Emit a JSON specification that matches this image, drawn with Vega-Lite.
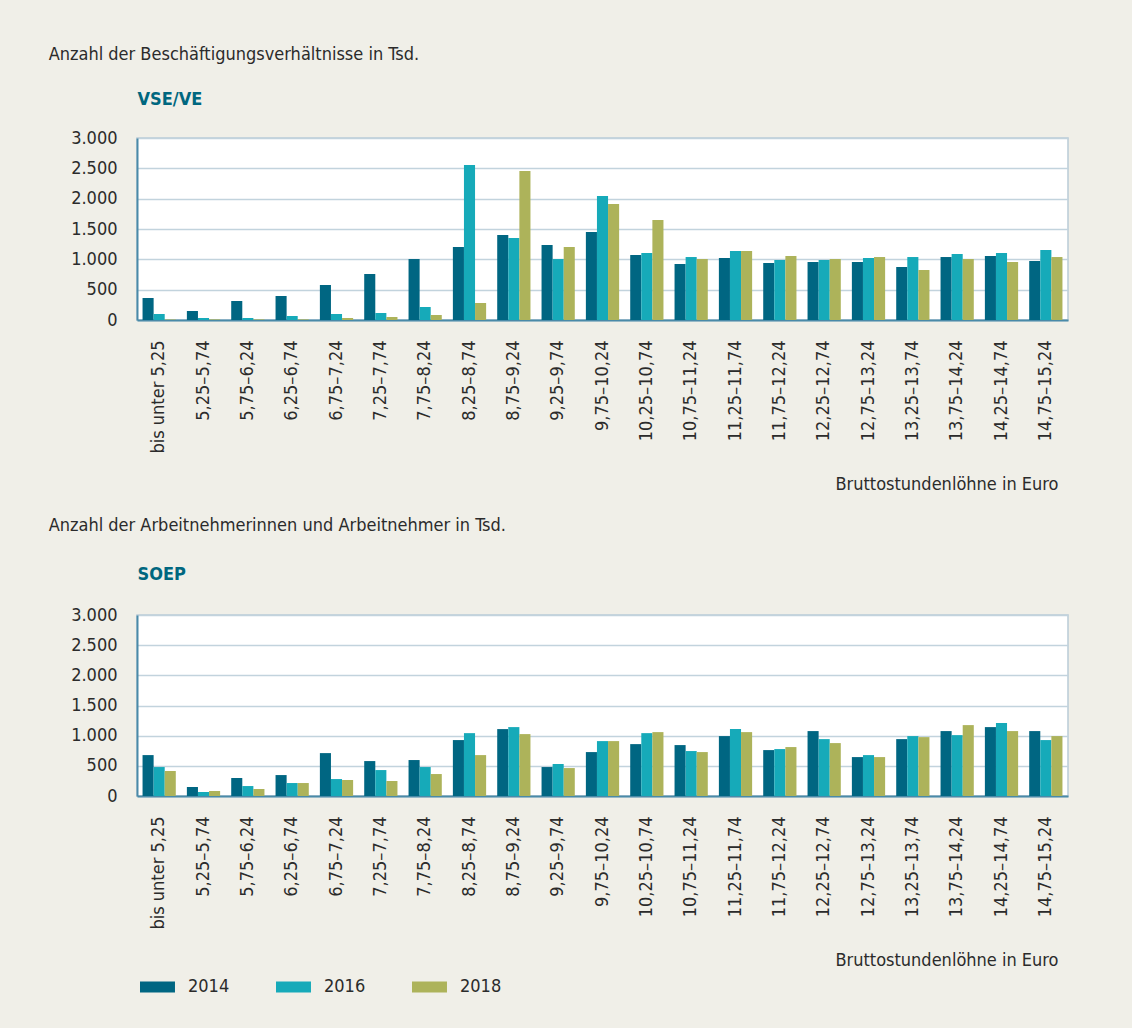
{
  "$schema": "https://vega.github.io/schema/vega-lite/v6.json",
  "background": "#f0efe8",
  "padding": {"left": 47, "top": 45, "right": 63, "bottom": 35},
  "spacing": 22,
  "config": {
    "font": "DejaVu Sans Condensed",
    "view": {"fill": "white", "stroke": "#b9cbd6", "strokeWidth": 1.5},
    "axis": {
      "domainColor": "#4a8aa8",
      "domainWidth": 2,
      "ticks": false,
      "labelFontSize": 18,
      "labelColor": "#2b2b2b",
      "labelPadding": 20,
      "titleFontSize": 18,
      "titleFontWeight": "normal",
      "titleColor": "#2b2b2b",
      "gridColor": "#c2d3dd",
      "gridWidth": 1.5
    },
    "legend": {"labelFont": "DejaVu Sans Condensed"},
    "title": {"fontSize": 18, "fontWeight": "normal", "color": "#2b2b2b", "anchor": "start", "frame": "bounds", "dx": -22}
  },
  "datasets": {
    "vse": [
      {"bin": "bis unter 5,25", "year": "2014", "value": 363}, {"bin": "bis unter 5,25", "year": "2016", "value": 99}, {"bin": "bis unter 5,25", "year": "2018", "value": 10},
      {"bin": "5,25–5,74", "year": "2014", "value": 148}, {"bin": "5,25–5,74", "year": "2016", "value": 33}, {"bin": "5,25–5,74", "year": "2018", "value": 10},
      {"bin": "5,75–6,24", "year": "2014", "value": 313}, {"bin": "5,75–6,24", "year": "2016", "value": 33}, {"bin": "5,75–6,24", "year": "2018", "value": 10},
      {"bin": "6,25–6,74", "year": "2014", "value": 396}, {"bin": "6,25–6,74", "year": "2016", "value": 66}, {"bin": "6,25–6,74", "year": "2018", "value": 10},
      {"bin": "6,75–7,24", "year": "2014", "value": 577}, {"bin": "6,75–7,24", "year": "2016", "value": 99}, {"bin": "6,75–7,24", "year": "2018", "value": 33},
      {"bin": "7,25–7,74", "year": "2014", "value": 758}, {"bin": "7,25–7,74", "year": "2016", "value": 115}, {"bin": "7,25–7,74", "year": "2018", "value": 49},
      {"bin": "7,75–8,24", "year": "2014", "value": 1005}, {"bin": "7,75–8,24", "year": "2016", "value": 214}, {"bin": "7,75–8,24", "year": "2018", "value": 82},
      {"bin": "8,25–8,74", "year": "2014", "value": 1203}, {"bin": "8,25–8,74", "year": "2016", "value": 2555}, {"bin": "8,25–8,74", "year": "2018", "value": 280},
      {"bin": "8,75–9,24", "year": "2014", "value": 1401}, {"bin": "8,75–9,24", "year": "2016", "value": 1352}, {"bin": "8,75–9,24", "year": "2018", "value": 2456},
      {"bin": "9,25–9,74", "year": "2014", "value": 1236}, {"bin": "9,25–9,74", "year": "2016", "value": 1005}, {"bin": "9,25–9,74", "year": "2018", "value": 1203},
      {"bin": "9,75–10,24", "year": "2014", "value": 1451}, {"bin": "9,75–10,24", "year": "2016", "value": 2044}, {"bin": "9,75–10,24", "year": "2018", "value": 1912},
      {"bin": "10,25–10,74", "year": "2014", "value": 1071}, {"bin": "10,25–10,74", "year": "2016", "value": 1104}, {"bin": "10,25–10,74", "year": "2018", "value": 1648},
      {"bin": "10,75–11,24", "year": "2014", "value": 923}, {"bin": "10,75–11,24", "year": "2016", "value": 1038}, {"bin": "10,75–11,24", "year": "2018", "value": 1005},
      {"bin": "11,25–11,74", "year": "2014", "value": 1022}, {"bin": "11,25–11,74", "year": "2016", "value": 1137}, {"bin": "11,25–11,74", "year": "2018", "value": 1137},
      {"bin": "11,75–12,24", "year": "2014", "value": 940}, {"bin": "11,75–12,24", "year": "2016", "value": 989}, {"bin": "11,75–12,24", "year": "2018", "value": 1055},
      {"bin": "12,25–12,74", "year": "2014", "value": 956}, {"bin": "12,25–12,74", "year": "2016", "value": 989}, {"bin": "12,25–12,74", "year": "2018", "value": 1005},
      {"bin": "12,75–13,24", "year": "2014", "value": 956}, {"bin": "12,75–13,24", "year": "2016", "value": 1022}, {"bin": "12,75–13,24", "year": "2018", "value": 1038},
      {"bin": "13,25–13,74", "year": "2014", "value": 874}, {"bin": "13,25–13,74", "year": "2016", "value": 1038}, {"bin": "13,25–13,74", "year": "2018", "value": 824},
      {"bin": "13,75–14,24", "year": "2014", "value": 1038}, {"bin": "13,75–14,24", "year": "2016", "value": 1088}, {"bin": "13,75–14,24", "year": "2018", "value": 1005},
      {"bin": "14,25–14,74", "year": "2014", "value": 1055}, {"bin": "14,25–14,74", "year": "2016", "value": 1104}, {"bin": "14,25–14,74", "year": "2018", "value": 956},
      {"bin": "14,75–15,24", "year": "2014", "value": 973}, {"bin": "14,75–15,24", "year": "2016", "value": 1154}, {"bin": "14,75–15,24", "year": "2018", "value": 1038}
    ],
    "soep": [
      {"bin": "bis unter 5,25", "year": "2014", "value": 678}, {"bin": "bis unter 5,25", "year": "2016", "value": 480}, {"bin": "bis unter 5,25", "year": "2018", "value": 414},
      {"bin": "5,25–5,74", "year": "2014", "value": 149}, {"bin": "5,25–5,74", "year": "2016", "value": 66}, {"bin": "5,25–5,74", "year": "2018", "value": 83},
      {"bin": "5,75–6,24", "year": "2014", "value": 298}, {"bin": "5,75–6,24", "year": "2016", "value": 165}, {"bin": "5,75–6,24", "year": "2018", "value": 116},
      {"bin": "6,25–6,74", "year": "2014", "value": 347}, {"bin": "6,25–6,74", "year": "2016", "value": 215}, {"bin": "6,25–6,74", "year": "2018", "value": 215},
      {"bin": "6,75–7,24", "year": "2014", "value": 711}, {"bin": "6,75–7,24", "year": "2016", "value": 281}, {"bin": "6,75–7,24", "year": "2018", "value": 265},
      {"bin": "7,25–7,74", "year": "2014", "value": 579}, {"bin": "7,25–7,74", "year": "2016", "value": 430}, {"bin": "7,25–7,74", "year": "2018", "value": 248},
      {"bin": "7,75–8,24", "year": "2014", "value": 596}, {"bin": "7,75–8,24", "year": "2016", "value": 480}, {"bin": "7,75–8,24", "year": "2018", "value": 364},
      {"bin": "8,25–8,74", "year": "2014", "value": 927}, {"bin": "8,25–8,74", "year": "2016", "value": 1042}, {"bin": "8,25–8,74", "year": "2018", "value": 678},
      {"bin": "8,75–9,24", "year": "2014", "value": 1109}, {"bin": "8,75–9,24", "year": "2016", "value": 1142}, {"bin": "8,75–9,24", "year": "2018", "value": 1026},
      {"bin": "9,25–9,74", "year": "2014", "value": 480}, {"bin": "9,25–9,74", "year": "2016", "value": 530}, {"bin": "9,25–9,74", "year": "2018", "value": 463},
      {"bin": "9,75–10,24", "year": "2014", "value": 728}, {"bin": "9,75–10,24", "year": "2016", "value": 910}, {"bin": "9,75–10,24", "year": "2018", "value": 910},
      {"bin": "10,25–10,74", "year": "2014", "value": 860}, {"bin": "10,25–10,74", "year": "2016", "value": 1042}, {"bin": "10,25–10,74", "year": "2018", "value": 1059},
      {"bin": "10,75–11,24", "year": "2014", "value": 844}, {"bin": "10,75–11,24", "year": "2016", "value": 745}, {"bin": "10,75–11,24", "year": "2018", "value": 728},
      {"bin": "11,25–11,74", "year": "2014", "value": 993}, {"bin": "11,25–11,74", "year": "2016", "value": 1109}, {"bin": "11,25–11,74", "year": "2018", "value": 1059},
      {"bin": "11,75–12,24", "year": "2014", "value": 761}, {"bin": "11,75–12,24", "year": "2016", "value": 778}, {"bin": "11,75–12,24", "year": "2018", "value": 811},
      {"bin": "12,25–12,74", "year": "2014", "value": 1076}, {"bin": "12,25–12,74", "year": "2016", "value": 943}, {"bin": "12,25–12,74", "year": "2018", "value": 877},
      {"bin": "12,75–13,24", "year": "2014", "value": 645}, {"bin": "12,75–13,24", "year": "2016", "value": 678}, {"bin": "12,75–13,24", "year": "2018", "value": 645},
      {"bin": "13,25–13,74", "year": "2014", "value": 943}, {"bin": "13,25–13,74", "year": "2016", "value": 993}, {"bin": "13,25–13,74", "year": "2018", "value": 976},
      {"bin": "13,75–14,24", "year": "2014", "value": 1076}, {"bin": "13,75–14,24", "year": "2016", "value": 1009}, {"bin": "13,75–14,24", "year": "2018", "value": 1175},
      {"bin": "14,25–14,74", "year": "2014", "value": 1142}, {"bin": "14,25–14,74", "year": "2016", "value": 1208}, {"bin": "14,25–14,74", "year": "2018", "value": 1076},
      {"bin": "14,75–15,24", "year": "2014", "value": 1076}, {"bin": "14,75–15,24", "year": "2016", "value": 927}, {"bin": "14,75–15,24", "year": "2018", "value": 993}
    ]
  },
  "vconcat": [
    {
      "width": 931,
      "height": 182,
      "title": {"text": "Anzahl der Beschäftigungsverhältnisse in Tsd.", "offset": 26},
      "data": {"name": "vse"},
      "mark": {"type": "bar"},
      "encoding": {
        "x": {"field": "bin", "type": "nominal", "sort": null,
          "scale": {"paddingInner": 0.25, "paddingOuter": 0.125},
          "axis": {"title": "Bruttostundenlöhne in Euro", "labelAngle": -90, "titleAnchor": "end", "titleAlign": "right", "titleX": 921, "titlePadding": 22}},
        "xOffset": {"field": "year", "type": "nominal"},
        "y": {"field": "value", "type": "quantitative", "scale": {"domain": [0, 3000]},
          "axis": {"values": [0, 500, 1000, 1500, 2000, 2500, 3000], "grid": true,
            "labelExpr": "replace(format(datum.value, ','), ',', '.')",
            "title": "VSE/VE", "titleAngle": 0, "titleAlign": "left", "titleBaseline": "alphabetic", "titleX": 0, "titleY": -34,
            "titleFontWeight": "bold", "titleColor": "#00677f"}},
        "color": {"field": "year", "type": "nominal",
          "scale": {"domain": ["2014", "2016", "2018"], "range": ["#006682", "#16aab9", "#adb35a"]},
          "legend": {"orient": "bottom", "direction": "horizontal", "title": null, "symbolType": "M-1,-0.917H4.83V0.917H-1Z", "symbolSize": 144, "symbolStrokeWidth": 0, "symbolOpacity": 1, "labelFontSize": 18, "labelColor": "#2b2b2b", "labelOffset": 33, "columnPadding": 43, "offset": 8}}
      }
    },
    {
      "width": 931,
      "height": 181,
      "title": {"text": "Anzahl der Arbeitnehmerinnen und Arbeitnehmer in Tsd.", "offset": 30},
      "data": {"name": "soep"},
      "mark": {"type": "bar"},
      "encoding": {
        "x": {"field": "bin", "type": "nominal", "sort": null,
          "scale": {"paddingInner": 0.25, "paddingOuter": 0.125},
          "axis": {"title": "Bruttostundenlöhne in Euro", "labelAngle": -90, "titleAnchor": "end", "titleAlign": "right", "titleX": 921, "titlePadding": 22}},
        "xOffset": {"field": "year", "type": "nominal"},
        "y": {"field": "value", "type": "quantitative", "scale": {"domain": [0, 3000]},
          "axis": {"values": [0, 500, 1000, 1500, 2000, 2500, 3000], "grid": true,
            "labelExpr": "replace(format(datum.value, ','), ',', '.')",
            "title": "SOEP", "titleAngle": 0, "titleAlign": "left", "titleBaseline": "alphabetic", "titleX": 0, "titleY": -36,
            "titleFontWeight": "bold", "titleColor": "#00677f"}},
        "color": {"field": "year", "type": "nominal",
          "scale": {"domain": ["2014", "2016", "2018"], "range": ["#006682", "#16aab9", "#adb35a"]},
          "legend": {"orient": "bottom", "direction": "horizontal", "title": null, "symbolType": "M-1,-0.917H4.83V0.917H-1Z", "symbolSize": 144, "symbolStrokeWidth": 0, "symbolOpacity": 1, "labelFontSize": 18, "labelColor": "#2b2b2b", "labelOffset": 33, "columnPadding": 43, "offset": 8}}
      }
    }
  ]
}
